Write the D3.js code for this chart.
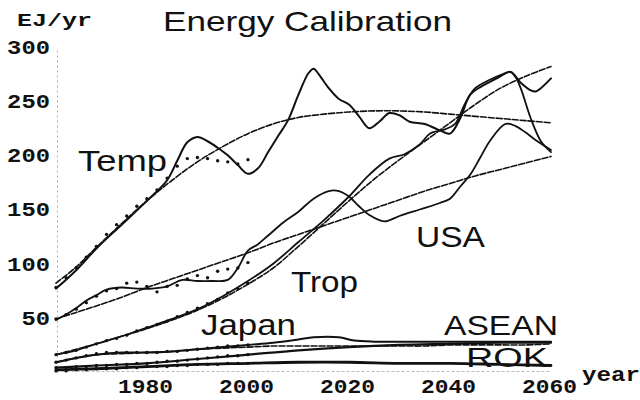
<!DOCTYPE html>
<html>
<head>
<meta charset="utf-8">
<script src="https://cdn.jsdelivr.net/npm/d3@7"></script>
<style>
  html, body { margin: 0; padding: 0; background: #fff; }
  svg { display: block; }
</style>
</head>
<body>
<svg id="chart" width="640" height="400"></svg>
<script>
// ---- axis ticks ----
const yTicks = [50, 100, 150, 200, 250, 300];
const xTicks = [1980, 2000, 2020, 2040, 2060];

// ---- historical data (biennial) ----
const dataYears = [1962,1964,1966,1968,1970,1972,1974,1976,1978,1980,1982,1984,1986,1988,1990,1992,1994,1996,1998,2000];
const tempData  = [78,87,96,106,116,127,136,144,153,160,168,179,190,197,198,197,195,194,192,196];
const usaData   = [49,53,58,64,70,75,77,82,83,79,74,79,80,86,89,87,93,95,96,101];
const tropData  = [16,18,20,23,26,29,31,34,38,41,44,47,51,55,59,63,67,73,77,82];
const japanData = [9,11,13,15,17,18,18,18,18,18,18,19,19,20,21,22,23,24,24,25];
const aseanData = [4,4,5,5,6,6,7,7,8,8,9,10,10,11,12,13,14,15,15,16];
const rokData   = [1,1,2,2,3,3,3,4,4,5,5,5,6,6,7,7,7,8,8,8];

// ---- smooth calibrated trends ----
const fitYears = [1962,1966,1970,1975,1980,1985,1990,1995,2000,2005,2010,2015,2020,2025,2030,2035,2040,2045,2050,2055,2060];
const tempFit  = [82,97,115,137,158,177,194,208,220,229,235,238,240,241,241,240,238,236,234,232,230];
const usaFit   = [49,55,61,69,78,86,94,102,110,119,127,135,143,151,159,167,174,181,187,193,199];
const tropFit  = [16,21,26,33,40,48,57,68,81,96,116,137,158,178,196,213,230,247,262,273,282];
const japanFit = [9,13,16,17,18,19,21,22,23,24,24,24,24,24,24,24,25,25,25,25,26];

// ---- simulated trajectories [year, EJ/yr] ----
const tempSim = [[1962,77],[1966,94],[1970,114],[1975,136],[1980,158],[1984,177],[1986,195],[1988,212],[1990,217],[1992,213],[1994,207],[1996,200],[1998,191],[2000,183],[2002,188],[2004,203],[2006,218],[2008,233],[2010,256],[2012,276],[2013,280],[2014,275],[2016,262],[2018,252],[2020,247],[2022,236],[2024,225],[2026,231],[2028,239],[2030,237],[2032,231],[2035,229],[2038,223],[2040,220],[2042,234],[2044,256],[2046,263],[2048,268],[2050,273],[2052,277],[2054,267],[2056,260],[2057,259],[2058,262],[2060,271]];
const usaSim = [[1962,48],[1964,53],[1966,59],[1968,66],[1970,71],[1972,76],[1975,78],[1978,77],[1981,77],[1984,79],[1987,85],[1990,84],[1993,84],[1996,85],[1998,96],[2000,112],[2002,118],[2004,126],[2007,138],[2010,148],[2013,160],[2016,167],[2018,167],[2020,162],[2022,153],[2024,145],[2027,139],[2030,144],[2034,150],[2038,156],[2040,160],[2042,171],[2044,182],[2046,198],[2048,214],[2051,229],[2053,227],[2055,221],[2057,214],[2060,205]];
const tropSim = [[1962,16],[1966,20],[1970,26],[1975,33],[1980,41],[1985,49],[1990,58],[1995,70],[2000,84],[2005,100],[2010,120],[2015,140],[2020,162],[2024,182],[2028,197],[2031,201],[2034,210],[2036,220],[2039,224],[2041,229],[2043,248],[2045,262],[2048,270],[2050,274],[2052,277],[2053,272],[2054,262],[2056,234],[2058,213],[2060,203]];
const japanSim = [[1962,9],[1966,13],[1970,16],[1975,18],[1980,18],[1985,19],[1990,21],[1995,23],[2000,25],[2005,27],[2010,30],[2013,32],[2018,32],[2021,29],[2025,28],[2030,28],[2040,28],[2050,28],[2060,28]];
const aseanSim = [[1962,4],[1970,6],[1980,8],[1990,12],[2000,16],[2010,20],[2020,23],[2030,25],[2040,26],[2050,27],[2060,27]];
const rokSim = [[1962,2],[1970,3],[1980,5],[1990,7],[2000,8],[2010,9],[2020,9],[2030,8],[2040,8],[2050,7],[2060,6]];

// ---- labels ----
const titleText = "Energy Calibration";
const seriesLabels = [
  { text: "Temp",  x: 78,  y: 171, w: 89,  size: 29 },
  { text: "USA",   x: 416, y: 247, w: 69,  size: 29 },
  { text: "Trop",  x: 291, y: 292, w: 67,  size: 29 },
  { text: "Japan", x: 201, y: 335, w: 95,  size: 29 },
  { text: "ASEAN", x: 444, y: 335, w: 114, size: 27 },
  { text: "ROK",   x: 466, y: 367, w: 82,  size: 27 }
];

const svg = d3.select("#chart");
const x = d3.scaleLinear().domain([1962, 2060]).range([56, 551]);
const y = d3.scaleLinear().domain([0, 300]).range([372, 47]);

const ink = "#111";
const sans = "'Liberation Sans', Arial, sans-serif";
const mono = "'Liberation Mono', 'DejaVu Sans Mono', monospace";

// axes
const yAxis = svg.append("g")
  .attr("transform", `translate(${x(1962) + 1},0)`)
  .call(d3.axisLeft(y).tickValues(yTicks).tickSize(0).tickSizeOuter(0).tickPadding(7));
yAxis.select(".domain").attr("stroke", "#aaa").attr("stroke-dasharray", "2,3");
yAxis.selectAll("text")
  .attr("font-family", mono).attr("font-weight", "bold").attr("font-size", 20)
  .attr("fill", ink)
  .attr("textLength", d => String(d).length * 14.3)
  .attr("lengthAdjust", "spacingAndGlyphs");

const xAxis = svg.append("g")
  .attr("transform", `translate(0,${y(0) - 1})`)
  .call(d3.axisBottom(x).tickValues(xTicks).tickFormat(d3.format("d")).tickSize(0).tickSizeOuter(0));
xAxis.select(".domain").attr("stroke", "#bbb").attr("stroke-dasharray", "3,2");
xAxis.selectAll("text")
  .attr("font-family", mono).attr("font-weight", "bold").attr("font-size", 20)
  .attr("fill", ink)
  .attr("y", 22).attr("dy", 0).attr("dx", -2)
  .attr("textLength", 55)
  .attr("lengthAdjust", "spacingAndGlyphs");

svg.append("text").text("EJ/yr")
  .attr("x", 17).attr("y", 26)
  .attr("font-family", mono).attr("font-weight", "bold").attr("font-size", 19)
  .attr("fill", ink).attr("textLength", 75).attr("lengthAdjust", "spacingAndGlyphs");

svg.append("text").text("year")
  .attr("x", 582).attr("y", 381)
  .attr("font-family", mono).attr("font-weight", "bold").attr("font-size", 20)
  .attr("fill", ink).attr("textLength", 58).attr("lengthAdjust", "spacingAndGlyphs");

// line generator
const line = d3.line()
  .x(d => x(d[0])).y(d => y(d[1]))
  .curve(d3.curveCatmullRom.alpha(0.5));

const plot = svg.append("g").attr("fill", "none").attr("stroke", ink).attr("stroke-linecap", "round");

// dashed trend curves
[tempFit, usaFit, tropFit, japanFit].forEach(vals => {
  plot.append("path")
    .datum(fitYears.map((yr, i) => [yr, vals[i]]))
    .attr("d", line)
    .attr("stroke-width", 1.6)
    .attr("stroke-dasharray", "6,2");
});

// simulated trajectories
[
  [tempSim, 2], [usaSim, 1.8], [tropSim, 1.8],
  [japanSim, 2], [aseanSim, 2.2], [rokSim, 2.8]
].forEach(([pts, w]) => {
  plot.append("path").datum(pts).attr("d", line).attr("stroke-width", w);
});

// historical data points
[tempData, usaData, tropData, japanData, aseanData, rokData].forEach(vals => {
  svg.append("g").selectAll("circle")
    .data(dataYears.map((yr, i) => [yr, vals[i]]))
    .join("circle")
    .attr("cx", d => x(d[0])).attr("cy", d => y(d[1]))
    .attr("r", 1.7).attr("fill", ink);
});

// title and series names
svg.append("text").text(titleText)
  .attr("x", 163).attr("y", 31)
  .attr("font-family", sans).attr("font-size", 28).attr("fill", ink)
  .attr("textLength", 289).attr("lengthAdjust", "spacingAndGlyphs");

svg.append("g").selectAll("text")
  .data(seriesLabels)
  .join("text")
  .text(d => d.text)
  .attr("x", d => d.x).attr("y", d => d.y)
  .attr("font-family", sans).attr("font-size", d => d.size).attr("fill", ink)
  .attr("textLength", d => d.w).attr("lengthAdjust", "spacingAndGlyphs");
</script>
</body>
</html>
